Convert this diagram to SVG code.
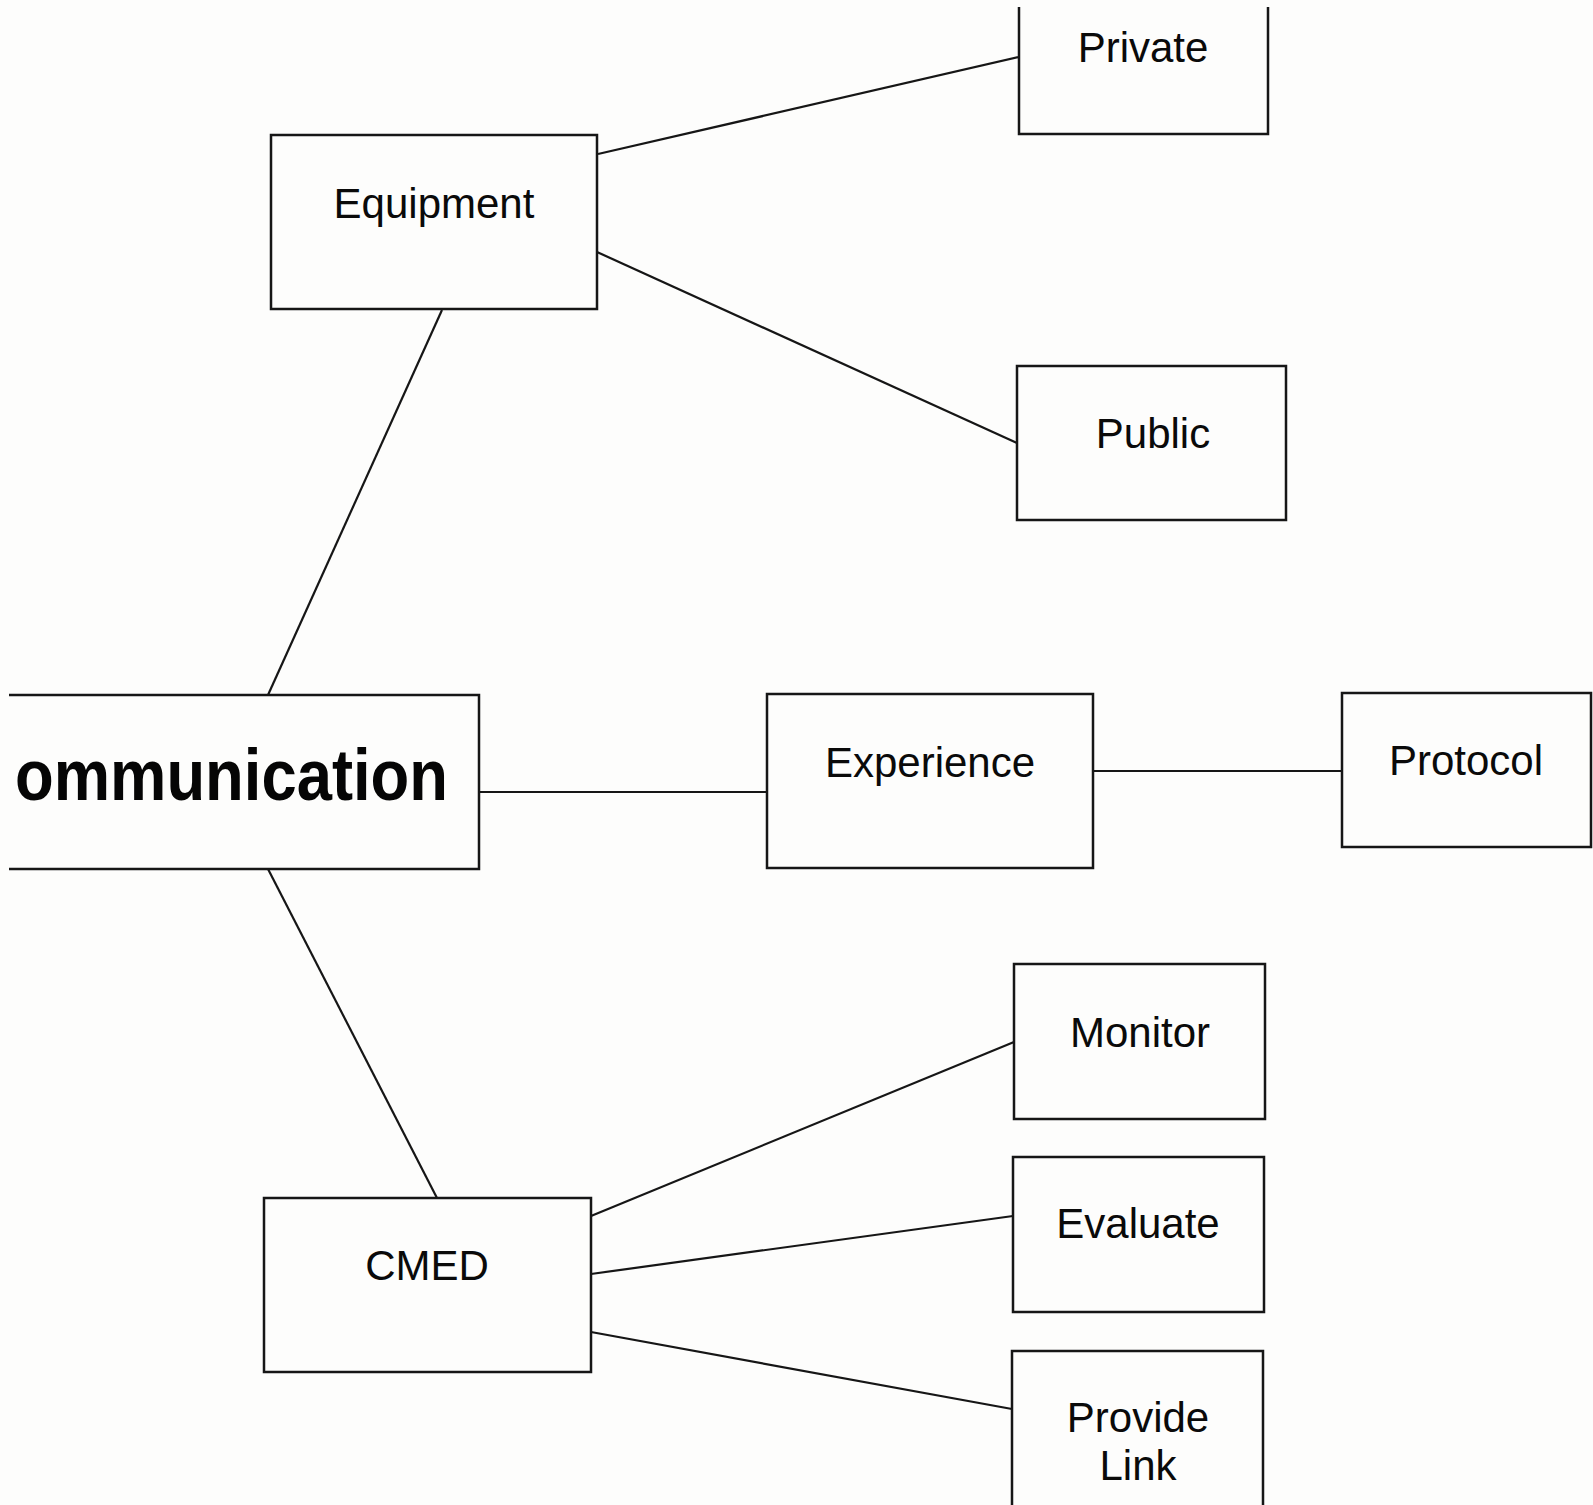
<svg xmlns="http://www.w3.org/2000/svg" width="1593" height="1505" viewBox="0 0 1593 1505">
<style>
.box{fill:none;stroke:#161616;stroke-width:2.5}
.ln{stroke:#161616;stroke-width:2.2;fill:none}
.t{font-family:"Liberation Sans",Arial,sans-serif;font-size:42px;fill:#0a0a0a;text-anchor:middle}
.big{font-family:"Liberation Sans",Arial,sans-serif;font-size:72px;font-weight:bold;fill:#050505}
</style>
<rect width="1593" height="1505" fill="#fdfdfc"/>
<g id="connectors">
<line class="ln" x1="598" y1="154" x2="1019" y2="57"/>
<line class="ln" x1="597" y1="252" x2="1017" y2="443"/>
<line class="ln" x1="442" y1="310" x2="268" y2="695"/>
<line class="ln" x1="479" y1="792" x2="767" y2="792"/>
<line class="ln" x1="1093" y1="771" x2="1342" y2="771"/>
<line class="ln" x1="268" y1="869" x2="437" y2="1198"/>
<line class="ln" x1="591" y1="1216" x2="1014" y2="1042"/>
<line class="ln" x1="591" y1="1274" x2="1013" y2="1216"/>
<line class="ln" x1="591" y1="1332" x2="1012" y2="1409"/>
</g>
<g id="node-private">
<path class="box" d="M1019 7 V134 H1268 V7"/>
<text class="t" x="1143" y="62">Private</text>
</g>
<g id="node-equipment">
<rect class="box" x="271" y="135" width="326" height="174"/>
<text class="t" x="434" y="218">Equipment</text>
</g>
<g id="node-public">
<rect class="box" x="1017" y="366" width="269" height="154"/>
<text class="t" x="1153" y="448">Public</text>
</g>
<g id="node-communication">
<path class="box" d="M9 695 H479 V869 H9"/>
<text class="big" x="15" y="800" textLength="433" lengthAdjust="spacingAndGlyphs">ommunication</text>
</g>
<g id="node-experience">
<rect class="box" x="767" y="694" width="326" height="174"/>
<text class="t" x="930" y="777">Experience</text>
</g>
<g id="node-protocol">
<rect class="box" x="1342" y="693" width="249" height="154"/>
<text class="t" x="1466" y="775">Protocol</text>
</g>
<g id="node-cmed">
<rect class="box" x="264" y="1198" width="327" height="174"/>
<text class="t" x="427" y="1280">CMED</text>
</g>
<g id="node-monitor">
<rect class="box" x="1014" y="964" width="251" height="155"/>
<text class="t" x="1140" y="1047">Monitor</text>
</g>
<g id="node-evaluate">
<rect class="box" x="1013" y="1157" width="251" height="155"/>
<text class="t" x="1138" y="1238">Evaluate</text>
</g>
<g id="node-provide-link">
<path class="box" d="M1012 1510 V1351 H1263 V1510"/>
<text class="t" x="1138" y="1432">Provide</text>
<text class="t" x="1138" y="1480">Link</text>
</g>
</svg>
